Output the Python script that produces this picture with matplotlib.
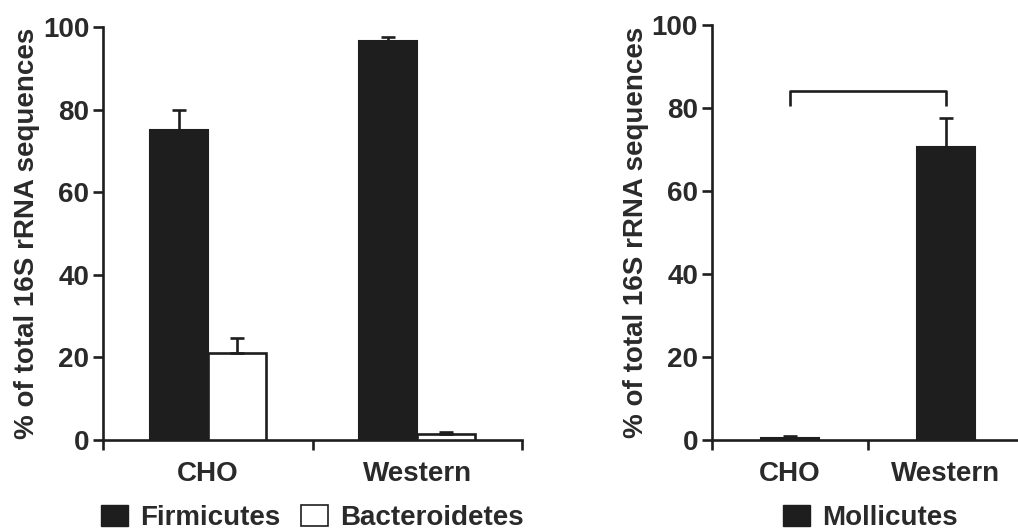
import matplotlib
matplotlib.use("Agg")
import matplotlib.pyplot as plt
from matplotlib.patches import Patch
import numpy as np

plt.rcParams['font.family'] = ['Liberation Sans', 'DejaVu Sans']
plt.rcParams['font.weight'] = 'bold'

groups = ["CHO", "Western"]
firmicutes = [75.0, 96.5]
firmicutes_err = [5.0, 1.0]
bacteroidetes = [21.0, 1.5]
bacteroidetes_err = [3.8, 0.5]
mollicutes = [0.5, 70.5]
mollicutes_err = [0.4, 7.0]
bracket_top = 84.0
bracket_end = 80.5

INK = "#1e1e1e"
TXT = "#2a2a2a"
FS = 20

fig = plt.figure(figsize=(10.18, 5.29), dpi=100)
ax1 = fig.add_axes([0.1012, 0.1682, 0.4116, 0.7808])
ax2 = fig.add_axes([0.6994, 0.1682, 0.3065, 0.7845])


def style(ax):
    for s in ("top", "right"):
        ax.spines[s].set_visible(False)
    for s in ("left", "bottom"):
        ax.spines[s].set_linewidth(1.9)
        ax.spines[s].set_color(INK)
    ax.set_ylim(0, 100)
    ax.set_xlim(0, 2)
    ax.set_yticks([0, 20, 40, 60, 80, 100])
    ax.set_xticks([0, 1, 2])
    ax.set_xticklabels([])
    ax.set_xticks([0.5, 1.5], minor=True)
    ax.set_xticklabels(groups, minor=True, fontsize=FS, fontweight='bold', color=TXT)
    ax.tick_params(axis='x', which='minor', length=0, pad=15)
    ax.tick_params(axis='x', which='major', length=7, width=1.9, color=INK)
    ax.tick_params(axis='y', length=7, width=1.9, color=INK, labelsize=FS,
                   labelcolor=TXT, pad=3)
    for lab in ax.get_yticklabels():
        lab.set_fontweight('bold')
    ax.set_ylabel("% of total 16S rRNA sequences", fontsize=FS,
                  fontweight='bold', color=TXT, labelpad=2)


style(ax1)
style(ax2)

x = np.arange(len(groups)) + 0.5
w = 0.277
ekw = dict(ecolor=INK, elinewidth=1.9, capthick=1.9)
ax1.bar(x - w / 2, firmicutes, w, color=INK, edgecolor=INK, linewidth=1.5,
        yerr=[np.zeros(2), firmicutes_err], capsize=5, error_kw=ekw, zorder=3)
ax1.bar(x + w / 2, bacteroidetes, w, color="white", edgecolor=INK, linewidth=1.9,
        yerr=[np.zeros(2), bacteroidetes_err], capsize=5, error_kw=ekw, zorder=3)

w2 = 0.37
ax2.bar(x, mollicutes, w2, color=INK, edgecolor=INK, linewidth=1.5,
        yerr=[np.zeros(2), mollicutes_err], capsize=5, error_kw=ekw, zorder=3)
ax2.plot([x[0], x[0], x[1], x[1]], [bracket_end, bracket_top, bracket_top, bracket_end],
         color=INK, lw=1.9, solid_capstyle='butt')

h_f = Patch(facecolor=INK, edgecolor=INK, label="Firmicutes")
h_b = Patch(facecolor="white", edgecolor=INK, linewidth=1.2, label="Bacteroidetes")
h_m = Patch(facecolor=INK, edgecolor=INK, label="Mollicutes")
lkw = dict(frameon=False, prop={'size': FS, 'weight': 'bold'}, handlelength=0.95,
           handleheight=0.8, handletextpad=0.45, columnspacing=0.75, labelcolor=TXT,
           borderaxespad=0, borderpad=0)
fig.legend(handles=[h_f, h_b], loc='center', bbox_to_anchor=(0.307, 0.021), ncol=2, **lkw)
fig.legend(handles=[h_m], loc='center', bbox_to_anchor=(0.855, 0.021), ncol=1, **lkw)

fig.savefig("out.png", dpi=100)
